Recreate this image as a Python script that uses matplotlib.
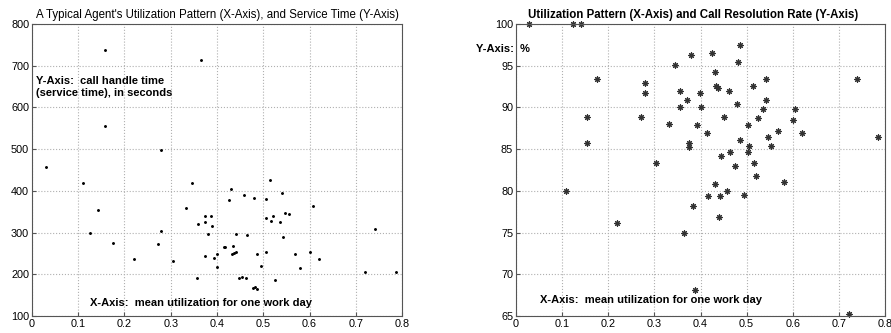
import matplotlib
matplotlib.use('Agg')
import matplotlib.pyplot as plt

plt.rcParams['font.family'] = ['Liberation Sans', 'DejaVu Sans']

# Agent utilization vs. service time (seconds)
util_service = [0.031, 0.110, 0.125, 0.143, 0.157, 0.157, 0.176, 0.220, 0.272, 0.280,
                0.280, 0.304, 0.334, 0.346, 0.357, 0.358, 0.365, 0.373, 0.374, 0.374,
                0.381, 0.386, 0.389, 0.393, 0.399, 0.400, 0.415, 0.418, 0.427, 0.431,
                0.433, 0.435, 0.437, 0.440, 0.442, 0.447, 0.453, 0.458, 0.462, 0.464,
                0.478, 0.480, 0.482, 0.487, 0.487, 0.495, 0.505, 0.505, 0.506, 0.515,
                0.517, 0.520, 0.526, 0.536, 0.541, 0.542, 0.547, 0.555, 0.568, 0.579,
                0.601, 0.607, 0.621, 0.721, 0.741, 0.786]
service_time = [457, 418, 299, 353, 737, 555, 275, 237, 272, 304,
                498, 232, 358, 420, 190, 320, 714, 326, 340, 245,
                297, 339, 316, 240, 217, 249, 266, 266, 379, 404,
                249, 268, 251, 253, 297, 190, 193, 391, 190, 294,
                168, 384, 170, 164, 249, 219, 381, 336, 254, 427,
                327, 339, 186, 326, 396, 290, 347, 345, 249, 215,
                254, 364, 237, 205, 309, 205]

# Agent utilization vs. call resolution rate (%)
util_resolution = [0.029, 0.123, 0.142, 0.175, 0.155, 0.155, 0.271, 0.279, 0.279, 0.303,
                   0.332, 0.345, 0.356, 0.356, 0.371, 0.374, 0.374, 0.380, 0.392, 0.398,
                   0.400, 0.415, 0.426, 0.431, 0.434, 0.438, 0.445, 0.451, 0.462, 0.464,
                   0.475, 0.479, 0.481, 0.486, 0.486, 0.504, 0.506, 0.504, 0.514, 0.517,
                   0.525, 0.535, 0.541, 0.542, 0.547, 0.553, 0.569, 0.601, 0.605, 0.621,
                   0.739, 0.785, 0.108, 0.220, 0.365, 0.384, 0.388, 0.417, 0.431, 0.440,
                   0.442, 0.458, 0.494, 0.520, 0.580, 0.721]
resolution_rate = [100.0, 100.0, 100.0, 93.4, 88.9, 85.7, 88.9, 92.9, 91.7, 83.3,
                   88.0, 95.1, 92.0, 90.0, 90.9, 85.7, 85.2, 96.3, 87.9, 91.7,
                   90.0, 86.9, 96.5, 94.3, 92.6, 92.3, 84.2, 88.9, 92.0, 84.7,
                   83.0, 90.4, 95.4, 97.5, 86.1, 87.9, 85.4, 84.7, 92.6, 83.3,
                   88.7, 89.8, 93.4, 90.9, 86.5, 85.4, 87.2, 88.5, 89.8, 86.9,
                   93.4, 86.5, 80.0, 76.2, 75.0, 78.2, 68.1, 79.4, 80.8, 76.9,
                   79.4, 80.0, 79.5, 81.8, 81.1, 65.3]

x_ticks = [0, 0.1, 0.2, 0.3, 0.4, 0.5, 0.6, 0.7, 0.8]
x_ticklabels = ['0', '0.1', '0.2', '0.3', '0.4', '0.5', '0.6', '0.7', '0.8']


def style_axes(ax):
    ax.grid(True, color='#b0b0b0', linestyle=':', linewidth=0.8)
    ax.set_axisbelow(True)
    for sp in ax.spines.values():
        sp.set_color('#555555')
        sp.set_linewidth(0.8)
    ax.tick_params(direction='in', length=3, labelsize=7.8, pad=2, color='#555555')
    ax.set_xlim(0, 0.8)
    ax.set_xticks(x_ticks)
    ax.set_xticklabels(x_ticklabels)


fig = plt.figure(figsize=(8.91, 3.33), dpi=100)
ax1 = fig.add_axes([0.0359, 0.051, 0.4153, 0.877])
ax2 = fig.add_axes([0.5791, 0.051, 0.4142, 0.877])

# left: service time
ax1.plot(util_service, service_time, linestyle='none', marker='o', markersize=1.1,
         color='black')
style_axes(ax1)
ax1.set_ylim(100, 800)
ax1.set_yticks(range(100, 801, 100))
ax1.set_title("A Typical Agent's Utilization Pattern (X-Axis), and Service Time (Y-Axis)",
              fontsize=8.3, pad=4)
ax1.text(0.009, 676, 'Y-Axis:  call handle time\n(service time), in seconds',
         fontsize=8, fontweight='bold', va='top', ha='left', linespacing=1.25)
ax1.text(0.125, 131, 'X-Axis:  mean utilization for one work day',
         fontsize=8, fontweight='bold', va='center', ha='left')

# right: call resolution rate, asterisk markers
ax2.plot(util_resolution, resolution_rate, linestyle='none', marker=(8, 2, 0),
         markersize=4.5, markeredgewidth=0.8, color='#333333', clip_on=False)
style_axes(ax2)
ax2.set_ylim(65, 100)
ax2.set_yticks(range(65, 101, 5))
ax2.set_title('Utilization Pattern (X-Axis) and Call Resolution Rate (Y-Axis)',
              fontsize=8.3, fontweight='bold', pad=4, x=0.48)
ax2.text(-0.087, 97.0, 'Y-Axis:  %', fontsize=8, fontweight='bold',
         va='center', ha='left', clip_on=False)
ax2.text(0.052, 66.9, 'X-Axis:  mean utilization for one work day',
         fontsize=8, fontweight='bold', va='center', ha='left')

fig.savefig('out.png', dpi=100)
